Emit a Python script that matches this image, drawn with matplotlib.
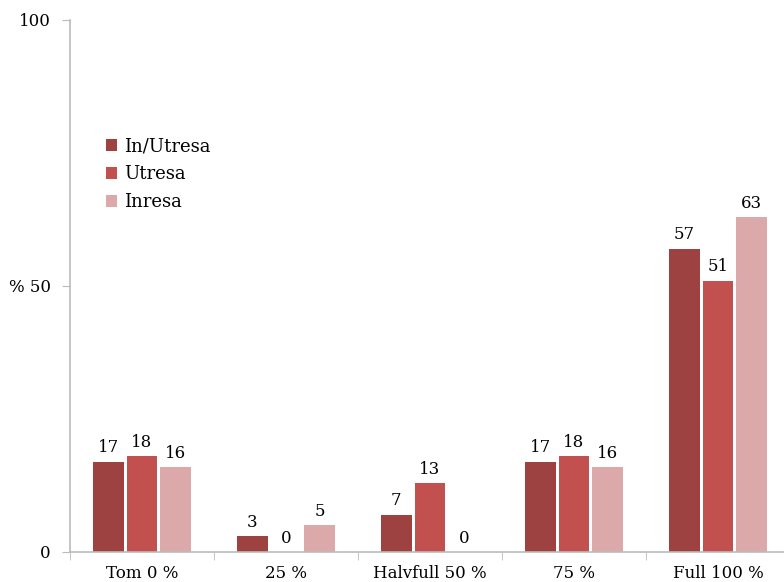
import matplotlib.pyplot as plt
import numpy as np

categories = ['Tom 0 %', '25 %', 'Halvfull 50 %', '75 %', 'Full 100 %']
series = ['In/Utresa', 'Utresa', 'Inresa']
in_utresa = [17, 3, 7, 17, 57]
utresa = [18, 0, 13, 18, 51]
inresa = [16, 5, 0, 16, 63]
colors = ['#9E4141', '#C1504E', '#DBA9A9']

plt.rcParams['font.family'] = ['DejaVu Serif']

fig = plt.figure(figsize=(7.84, 5.82), dpi=100)
ax = fig.add_axes([70 / 784, 30 / 582, 720 / 784, 532 / 582])

x = np.arange(len(categories))
width = 0.215
step = 0.235
for i, (name, vals) in enumerate(zip(series, [in_utresa, utresa, inresa])):
    pos = x + (i - 1) * step
    bars = ax.bar(pos, vals, width, color=colors[i], label=name)
    for xx, v in zip(pos, vals):
        ax.text(xx, v + 1, str(v), ha='center', va='bottom', fontsize=12)

ax.set_xlim(-0.5, len(categories) - 0.5)
ax.set_ylim(0, 100)
ax.set_yticks([0, 50, 100])
ax.set_yticklabels(['0', '% 50', '100'], fontsize=12)
ax.set_xticks(x)
ax.set_xticklabels(categories, fontsize=12)
ax.set_xticks(np.arange(-0.5, len(categories), 1), minor=True)
ax.tick_params(axis='x', which='major', length=0, pad=9)
ax.tick_params(axis='x', which='minor', length=6, color='#BBBBBB')
ax.tick_params(axis='y', length=6, color='#BBBBBB', pad=8)

for s in ['top', 'right']:
    ax.spines[s].set_visible(False)
for s in ['left', 'bottom']:
    ax.spines[s].set_color('#BBBBBB')
    ax.spines[s].set_linewidth(1.2)

ax.legend(loc='upper left', bbox_to_anchor=(0.027, 0.81), frameon=False,
          fontsize=13, handlelength=0.6, handleheight=0.6, handletextpad=0.4,
          labelspacing=0.55)

fig.savefig('out.png', dpi=100)
